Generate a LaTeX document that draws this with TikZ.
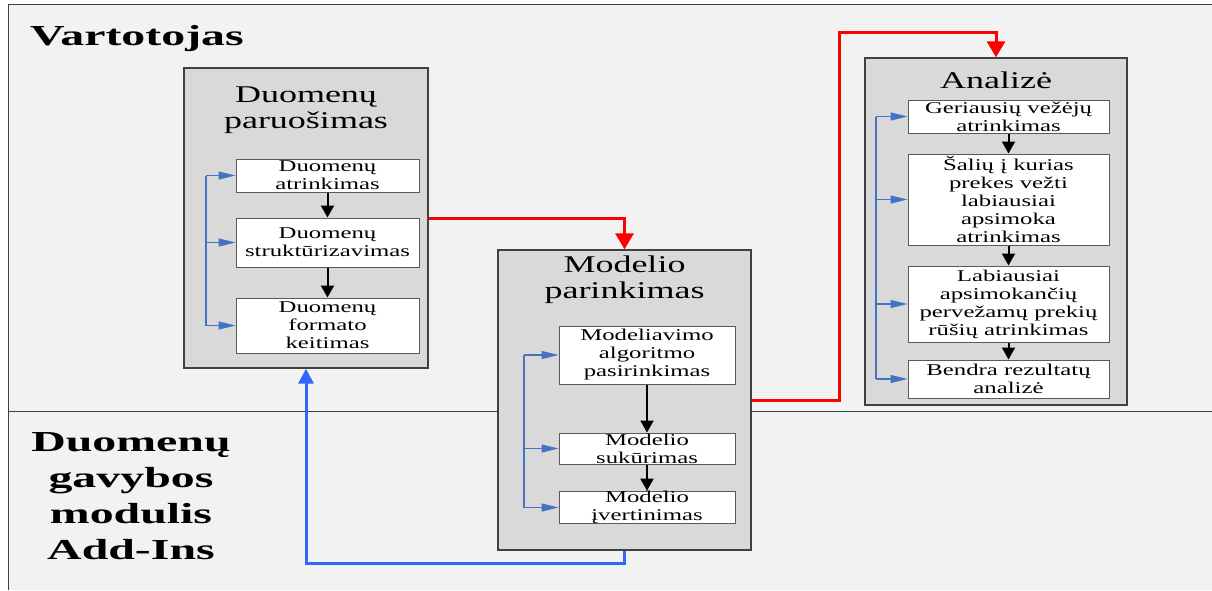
\documentclass[tikz,border=0pt]{standalone}
\usepackage{fontspec}
\setmainfont[FakeStretch=1.5]{Liberation Serif}
\newfontfamily\lanefont[FakeStretch=1.65]{Liberation Serif}
\usetikzlibrary{arrows.meta}
\definecolor{fonas}{HTML}{F2F2F2}
\definecolor{pilka}{HTML}{D9D9D9}
\definecolor{melyna}{HTML}{4472C4}
\definecolor{ryskiai}{HTML}{3366FF}
\definecolor{raudona}{HTML}{FF0000}

\begin{document}
\begin{tikzpicture}[x=1pt,y=-1pt,
    grupe/.style={draw=black!75,line width=1.3pt,fill=pilka,inner sep=0pt},
    zingsnis/.style={draw=black!65,line width=1pt,fill=white,inner sep=0pt,align=center,
      font=\fontsize{16.5}{18}\selectfont},
    antraste/.style={align=center,inner sep=0pt,font=\fontsize{24}{26}\selectfont},
    juosta/.style={align=center,inner sep=0pt,font=\lanefont\bfseries\fontsize{29}{36}\selectfont},
    seka/.style={-{Triangle[length=12pt,width=13pt]},line width=2pt},
    grizt/.style={-{Triangle[length=17pt,width=8pt]},draw=melyna,line width=1.2pt},
    raudonas/.style={-{Triangle[length=16pt,width=18pt]},draw=raudona,line width=3pt},
    melynas/.style={-{Triangle[length=15pt,width=15pt]},draw=ryskiai,line width=3pt}]
      \useasboundingbox (0,0) rectangle (1212,590);

      \fill[fonas] (8,4) rectangle (1212,590);
      \draw[black!75,line width=1pt] (1212,4) -- (8,4) -- (8,590);
      \draw[black!75,line width=1pt] (8,411) -- (1212,411);

      \node[juosta,anchor=base west] (vartotojas) at (30,45) {Vartotojas};
      \node[juosta] (gavyba) at (131,496) {Duomenų\\gavybos\\modulis\\Add-Ins};

      \node[grupe,minimum width=244pt,minimum height=300pt] (paruosimas) at (306,218) {};
      \node[antraste] (paruosimast) at (306,110) {Duomenų\\paruošimas};
      \node[zingsnis,minimum width=183pt,minimum height=33pt] (atr) at (327.5,175.5) {Duomenų\\atrinkimas};
      \node[zingsnis,minimum width=183pt,minimum height=49pt] (str) at (327.5,242.5) {Duomenų\\struktūrizavimas};
      \node[zingsnis,minimum width=183pt,minimum height=55pt] (frm) at (327.5,325.5) {Duomenų\\formato\\keitimas};

      \node[grupe,minimum width=253pt,minimum height=300pt] (modelis) at (624.5,400) {};
      \node[antraste] (modelist) at (624.5,280) {Modelio\\parinkimas};
      \node[zingsnis,minimum width=176pt,minimum height=58pt] (alg) at (647,355) {Modeliavimo\\algoritmo\\pasirinkimas};
      \node[zingsnis,minimum width=176pt,minimum height=31pt] (suk) at (647,448.5) {Modelio\\sukūrimas};
      \node[zingsnis,minimum width=176pt,minimum height=31pt] (ivr) at (647,507.5) {Modelio\\įvertinimas};

      \node[grupe,minimum width=262pt,minimum height=347pt] (analize) at (996,231.5) {};
      \node[antraste,anchor=base] (analizet) at (996,88) {Analizė};
      \node[zingsnis,minimum width=201pt,minimum height=33pt] (vez) at (1008.5,116.5) {Geriausių vežėjų\\atrinkimas};
      \node[zingsnis,minimum width=201pt,minimum height=91pt] (sal) at (1008.5,199.5) {Šalių į kurias\\prekes vežti\\labiausiai\\apsimoka\\atrinkimas};
      \node[zingsnis,minimum width=201pt,minimum height=76pt] (rus) at (1008.5,304) {Labiausiai\\apsimokančių\\pervežamų prekių\\rūšių atrinkimas};
      \node[zingsnis,minimum width=201pt,minimum height=38pt] (ben) at (1008.5,379) {Bendra rezultatų\\analizė};

      \draw[seka] (atr) -- (str);
      \draw[seka] (str) -- (frm);
      \draw[seka] (alg) -- (suk);
      \draw[seka] (suk) -- (ivr);
      \draw[seka] (vez) -- (sal);
      \draw[seka] (sal) -- (rus);
      \draw[seka] (rus) -- (ben);

      \coordinate (k1) at (206,0);
      \coordinate (k2) at (524,0);
      \coordinate (k3) at (876,0);
      \draw[melyna,line width=1.2pt] (k1 |- atr.west) -- (k1 |- frm.west);
      \draw[melyna,line width=1.2pt] (k2 |- alg.west) -- (k2 |- ivr.west);
      \draw[melyna,line width=1.2pt] (k3 |- vez.west) -- (k3 |- ben.west);
      \foreach \b in {atr,str,frm} \draw[grizt] (k1 |- \b.west) -- (\b.west);
      \foreach \b in {alg,suk,ivr} \draw[grizt] (k2 |- \b.west) -- (\b.west);
      \foreach \b in {vez,sal,rus,ben} \draw[grizt] (k3 |- \b.west) -- (\b.west);

      \coordinate (virsus) at (839,32);
      \coordinate (apacia) at (306,563);
      \draw[raudonas] (paruosimas.east) -| (modelis.north);
      \draw[raudonas] (modelis.east) -| (virsus) -| (analize.north);
      \draw[melynas] (modelis.south) |- (apacia) -| (paruosimas.south);
\end{tikzpicture}
\end{document}
